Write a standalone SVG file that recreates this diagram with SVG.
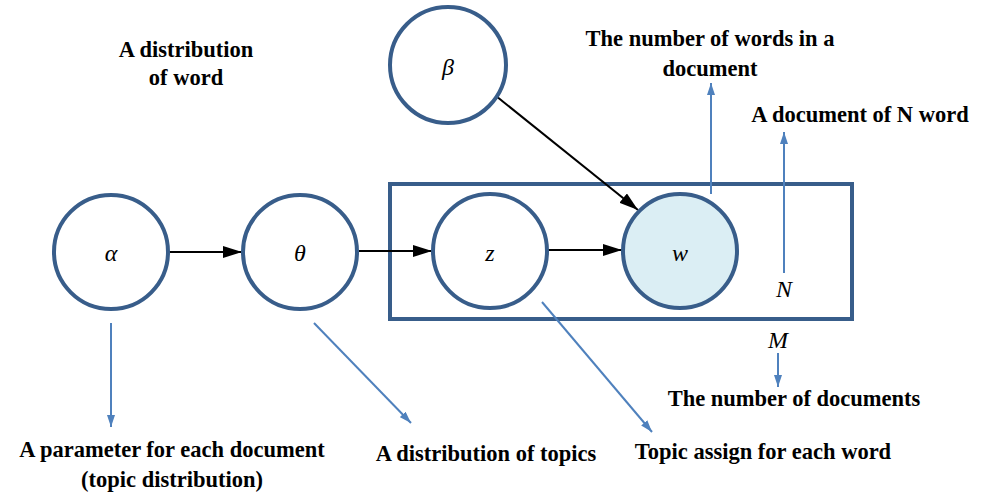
<svg xmlns="http://www.w3.org/2000/svg" width="988" height="496" viewBox="0 0 988 496">
  <defs>
    <marker id="blackHead" viewBox="0 0 19 12" refX="19" refY="6" markerWidth="19" markerHeight="12" markerUnits="userSpaceOnUse" orient="auto">
      <path d="M0,0 L19,6 L0,12 Z" fill="#000"/>
    </marker>
    <marker id="blueHead" viewBox="0 0 12 8" refX="12" refY="4" markerWidth="12" markerHeight="8" markerUnits="userSpaceOnUse" orient="auto">
      <path d="M0,0 L12,4 L0,8 Z" fill="#4f81bd"/>
    </marker>
  </defs>
  <style>
    .node { fill: #ffffff; stroke: #385d8a; stroke-width: 4; }
    .observed { fill: #dbeef4; }
    .plate { fill: none; stroke: #385d8a; stroke-width: 4; }
    .edge { stroke: #000; stroke-width: 2; fill: none; marker-end: url(#blackHead); }
    .note { stroke: #4f81bd; stroke-width: 2; fill: none; marker-end: url(#blueHead); }
    .sym { font-family: "Liberation Serif", "DejaVu Serif", serif; font-style: italic; font-size: 24px; text-anchor: middle; fill: #000; }
    .label { font-family: "Liberation Serif", "DejaVu Serif", serif; font-weight: bold; font-size: 22.5px; text-anchor: middle; fill: #000; }
  </style>

  <rect x="0" y="0" width="988" height="496" fill="#ffffff"/>

  <!-- plate -->
  <g id="plate">
    <rect class="plate" x="390" y="184" width="462" height="135"/>
  </g>

  <!-- connectors -->
  <g id="connectors">
    <line class="edge" x1="169" y1="252" x2="242" y2="252"/>
    <line class="edge" x1="359" y1="251" x2="432" y2="251"/>
    <line class="edge" x1="548" y1="250" x2="622" y2="250"/>
    <line class="edge" x1="496" y1="96" x2="638" y2="210"/>

    <line class="note" x1="111" y1="323" x2="111" y2="427"/>
    <line class="note" x1="314" y1="323" x2="411" y2="423"/>
    <line class="note" x1="542" y1="302" x2="652" y2="432"/>
    <line class="note" x1="711" y1="194" x2="711" y2="83"/>
    <line class="note" x1="784" y1="273" x2="784" y2="132"/>
    <line class="note" x1="778" y1="353" x2="778" y2="387"/>
  </g>

  <!-- nodes -->
  <g id="alpha">
    <circle class="node" cx="111" cy="252" r="57"/>
    <text class="sym" x="111" y="261">α</text>
  </g>
  <g id="theta">
    <circle class="node" cx="300" cy="252" r="57"/>
    <text class="sym" x="300" y="261">θ</text>
  </g>
  <g id="z">
    <circle class="node" cx="490" cy="251" r="57"/>
    <text class="sym" x="490" y="261">z</text>
  </g>
  <g id="w">
    <circle class="node observed" cx="680" cy="251" r="57"/>
    <text class="sym" x="680" y="261">w</text>
  </g>
  <g id="beta">
    <circle class="node" cx="448" cy="65" r="58"/>
    <text class="sym" x="448" y="75">β</text>
  </g>

  <!-- plate indices -->
  <g id="plate-labels">
    <text class="sym" x="784" y="297">N</text>
    <text class="sym" x="778" y="348">M</text>
  </g>

  <!-- annotations -->
  <g id="annotations">
    <text class="label" x="186" y="57">A distribution</text>
    <text class="label" x="186" y="85">of word</text>
    <text class="label" x="710" y="46">The number of words in a</text>
    <text class="label" x="710" y="76">document</text>
    <text class="label" x="860" y="122">A document of N word</text>
    <text class="label" x="794" y="406">The number of documents</text>
    <text class="label" x="172" y="457">A parameter for each document</text>
    <text class="label" x="172" y="487">(topic distribution)</text>
    <text class="label" x="486" y="461">A distribution of topics</text>
    <text class="label" x="763" y="459">Topic assign for each word</text>
  </g>
</svg>
